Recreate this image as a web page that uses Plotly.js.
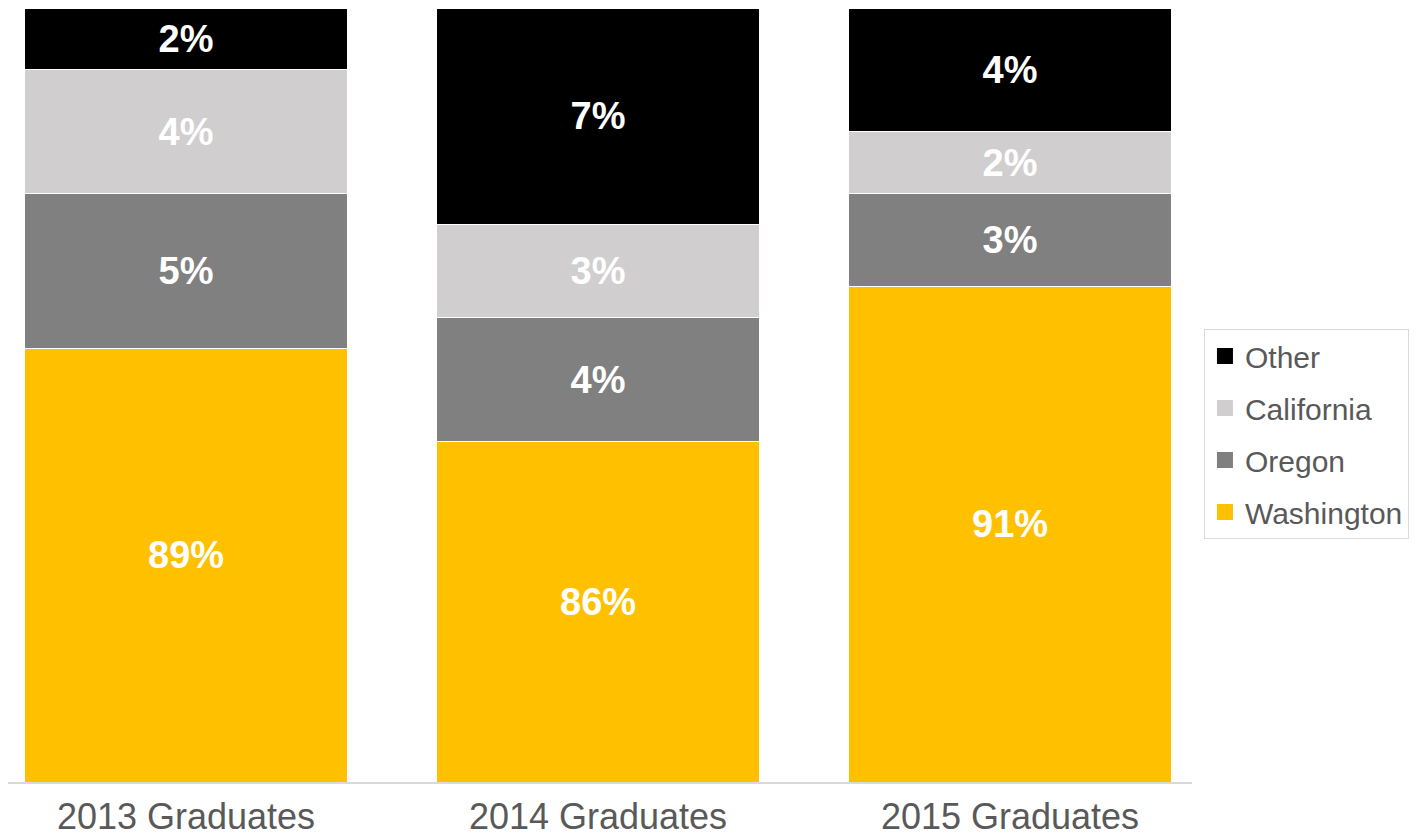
<!DOCTYPE html>
<html>
<head>
<meta charset="utf-8">
<script src="https://cdn.plot.ly/plotly-3.0.1.min.js"></script>
<style>
  html, body { margin: 0; padding: 0; background: #ffffff; }
  #chart { width: 1421px; height: 839px; }
</style>
</head>
<body>
<div id="chart"></div>
<script>
// ---- data ----
const categories = ["2013 Graduates", "2014 Graduates", "2015 Graduates"];
const washington = [89, 86, 91];
const oregon = [5, 4, 3];
const california = [4, 3, 2];
const other = [2, 7, 4];
const seriesNames = ["Washington", "Oregon", "California", "Other"];
const seriesColors = ["#FFC000", "#808080", "#D0CECE", "#000000"];
const Y_MIN = 75, Y_MAX = 100;

const FONT = "Liberation Sans, Arial, sans-serif";
const seriesValues = [washington, oregon, california, other];

const traces = [];
seriesValues.forEach((vals, i) => {
  traces.push({
    type: "bar",
    name: seriesNames[i],
    x: categories,
    y: vals,
    marker: { color: seriesColors[i], line: { color: "#ffffff", width: 1 } },
    texttemplate: "%{y}%",
    textposition: i === 0 ? "none" : "inside",
    insidetextanchor: "middle",
    textangle: 0,
    constraintext: "none",
    textfont: { family: FONT, size: 38, color: "#ffffff", weight: "bold" },
    showlegend: false,
    hoverinfo: "x+y+name"
  });
});

// legend entries (top to bottom: Other, California, Oregon, Washington)
[3, 2, 1, 0].forEach((i) => {
  traces.push({
    type: "scatter",
    mode: "markers",
    name: seriesNames[i],
    x: [categories[0]],
    y: [null],
    legendgroup: "g" + i,
    marker: { symbol: "square", size: 16, color: seriesColors[i] },
    showlegend: true,
    hoverinfo: "skip"
  });
});

// Washington labels placed in the visible part of the bar
const annotations = categories.map((c, k) => ({
  x: c,
  y: (Y_MIN + washington[k]) / 2,
  xref: "x",
  yref: "y",
  yshift: 10,
  text: washington[k] + "%",
  showarrow: false,
  font: { family: FONT, size: 38, color: "#ffffff", weight: "bold" }
}));

const layout = {
  width: 1421,
  height: 839,
  margin: { l: 8, r: 229, t: 8, b: 57, autoexpand: false },
  paper_bgcolor: "#ffffff",
  plot_bgcolor: "#ffffff",
  barmode: "stack",
  bargap: 0.214,
  font: { family: FONT, color: "#595959" },
  xaxis: {
    type: "category",
    range: [-0.432, 2.4417],
    showline: true,
    linecolor: "#D9D9D9",
    linewidth: 2,
    ticks: "",
    ticklabelstandoff: 2,
    showgrid: false,
    zeroline: false,
    tickfont: { family: FONT, size: 36, color: "#595959" },
    fixedrange: true
  },
  yaxis: {
    range: [Y_MIN, Y_MAX],
    showticklabels: false,
    showgrid: false,
    zeroline: false,
    showline: false,
    ticks: "",
    fixedrange: true
  },
  legend: {
    x: 1.0101,
    y: 0.5853,
    xanchor: "left",
    yanchor: "top",
    traceorder: "grouped",
    tracegroupgap: 10,
    bordercolor: "#D9D9D9",
    borderwidth: 1,
    bgcolor: "#ffffff",
    font: { family: FONT, size: 30, color: "#595959" }
  },
  annotations: annotations,
  showlegend: true
};

Plotly.newPlot("chart", traces, layout, { displayModeBar: false, staticPlot: true });
</script>
</body>
</html>
